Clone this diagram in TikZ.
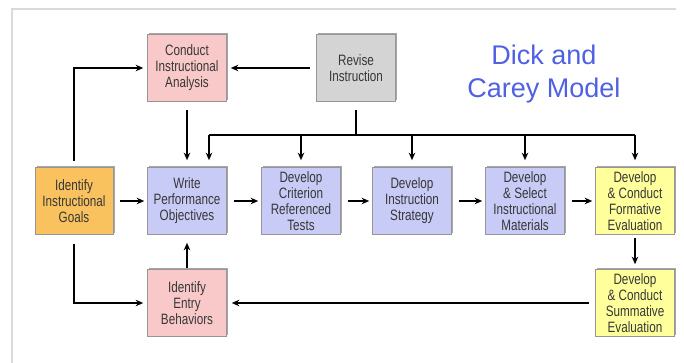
\documentclass[tikz,border=0pt]{standalone}
\usepackage{fontspec}
\setmainfont{Liberation Sans}[FakeStretch=0.78]
\newfontfamily\titlefont{Liberation Sans}
\usetikzlibrary{arrows.meta,positioning,shadows,calc}

\definecolor{pinkbox}{RGB}{249,201,201}
\definecolor{graybox}{RGB}{212,212,212}
\definecolor{goalbox}{RGB}{249,194,94}
\definecolor{bluebox}{RGB}{201,203,247}
\definecolor{yellowbox}{RGB}{255,255,156}
\definecolor{boxline}{RGB}{150,150,150}
\definecolor{boxtext}{RGB}{55,55,55}
\definecolor{titleblue}{RGB}{80,96,226}
\definecolor{framegray}{RGB}{218,218,218}

\tikzset{
  stage/.style={draw=boxline, line width=0.6pt, minimum width=79pt, minimum height=67pt,
    inner sep=0pt, align=center, text=boxtext, font=\fontsize{15}{16}\selectfont,
    drop shadow={shadow xshift=1.8pt, shadow yshift=1.8pt, opacity=0.35, fill=black}},
  flow/.style={line width=1.3pt, -{Stealth[length=7.5pt,width=6.5pt]}},
  plain/.style={line width=1.3pt}
}

\begin{document}
\begin{tikzpicture}[x=1pt,y=-1pt]
\useasboundingbox (0,0) rectangle (684,363);
% frame
\draw[framegray, line width=2pt] (12,363) -- (12,9) -- (676,9);

% boxes
\node[stage, fill=pinkbox] (conduct) at (187,68) {Conduct\\Instructional\\Analysis};
\node[stage, fill=graybox] (revise) at (356,68) {Revise\\Instruction};
\node[stage, fill=goalbox, minimum width=78pt] (goals) at (74,201) {Identify\\Instructional\\Goals};
\node[stage, fill=bluebox] (write) at (187,201) {Write\\Performance\\Objectives};
\node[stage, fill=bluebox] (tests) at (301,201) {Develop\\Criterion\\Referenced\\Tests};
\node[stage, fill=bluebox] (strategy) at (412,201) {Develop\\Instruction\\Strategy};
\node[stage, fill=bluebox] (materials) at (525,201) {Develop\\\& Select\\Instructional\\Materials};
\node[stage, fill=yellowbox] (formative) at (635,201) {Develop\\\& Conduct\\Formative\\Evaluation};
\node[stage, fill=pinkbox] (entry) at (187,303) {Identify\\Entry\\Behaviors};
\node[stage, fill=yellowbox] (summative) at (635,303) {Develop\\\& Conduct\\Summative\\Evaluation};

% title
\node[text=titleblue, align=center, font=\titlefont\fontsize{27}{33}\selectfont] (title) at (544,74) {Dick and\\Carey Model};

% main row
\draw[flow, shorten <=7pt, shorten >=3pt] (goals) -- (write);
\draw[flow, shorten <=7pt, shorten >=3pt] (write) -- (tests);
\draw[flow, shorten <=7pt, shorten >=3pt] (tests) -- (strategy);
\draw[flow, shorten <=7pt, shorten >=3pt] (strategy) -- (materials);
\draw[flow, shorten <=7pt, shorten >=3pt] (materials) -- (formative);

% top part
\draw[flow, shorten <=6pt, shorten >=4pt] (goals.north) |- (conduct.west);
\draw[flow, shorten <=6pt, shorten >=4pt] (revise) -- (conduct);
\draw[flow, shorten <=8pt, shorten >=7pt] (conduct) -- (write);

% revision feedback bus
\coordinate (busL) at (209,135);
\draw[plain, shorten <=8pt] (revise.south) -- (revise.south |- busL);
\draw[plain] (busL) -- (formative.north |- busL);
\draw[flow, shorten >=7pt] (busL) -- (busL |- write.north);
\draw[flow, shorten >=7pt] (tests.north |- busL) -- (tests.north);
\draw[flow, shorten >=7pt] (strategy.north |- busL) -- (strategy.north);
\draw[flow, shorten >=7pt] (materials.north |- busL) -- (materials.north);
\draw[flow, shorten >=7pt] (formative.north |- busL) -- (formative.north);

% bottom part
\draw[flow, shorten <=9pt, shorten >=4pt] (goals.south) |- (entry.west);
\draw[flow, shorten <=1pt, shorten >=8pt] (entry) -- (write);
\draw[flow, shorten <=6pt, shorten >=5pt] (summative) -- (entry);
\draw[flow, shorten <=3pt, shorten >=5pt] (formative) -- (summative);
\end{tikzpicture}
\end{document}
